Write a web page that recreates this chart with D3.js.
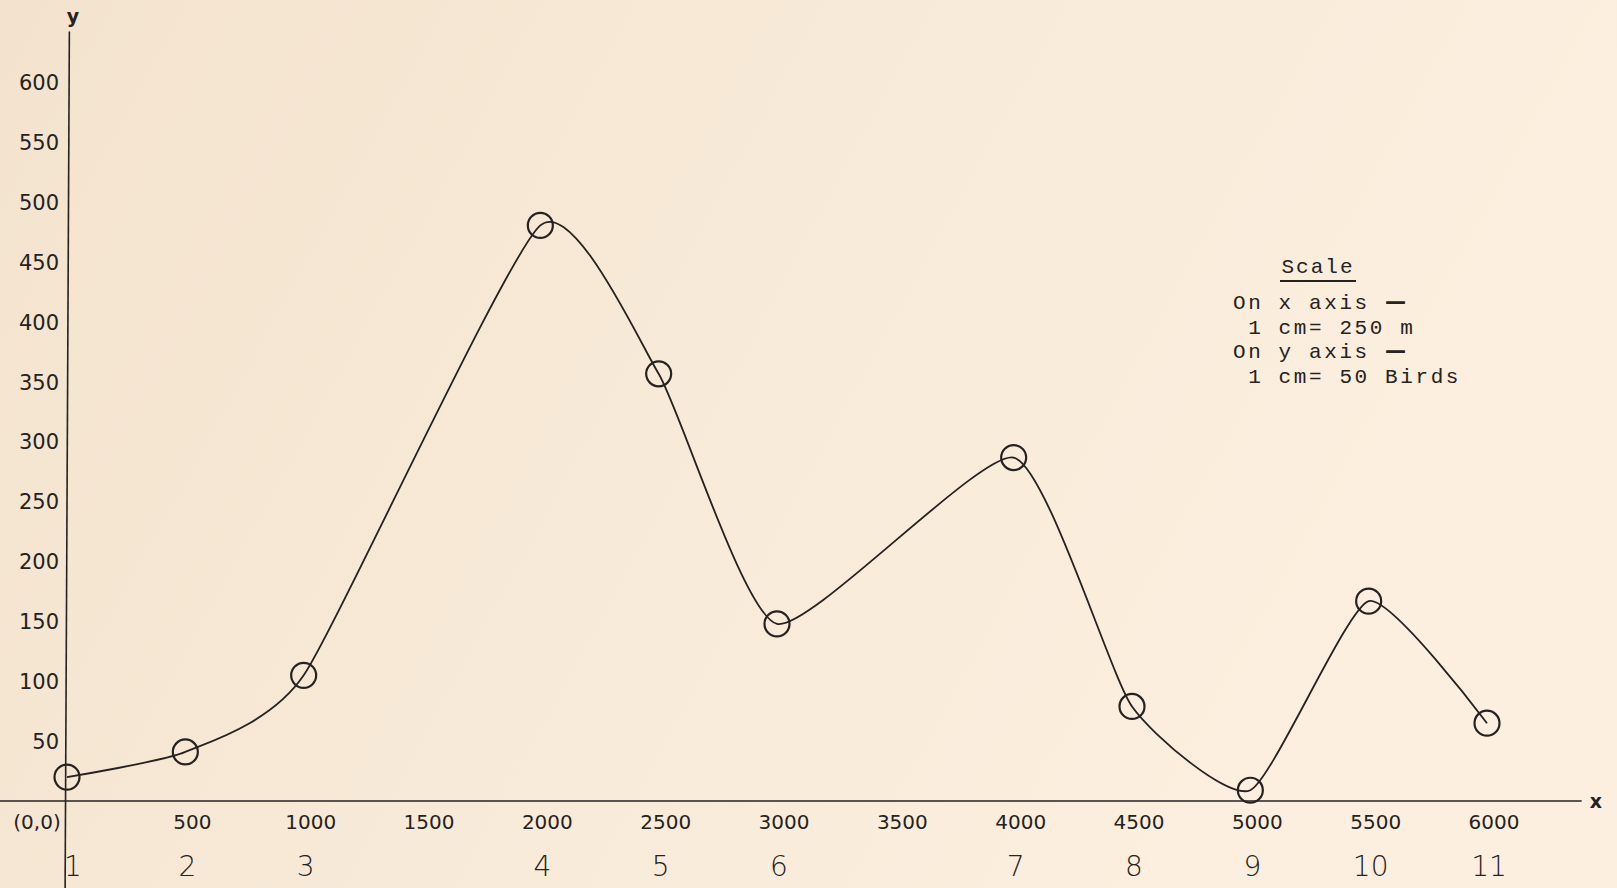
<!DOCTYPE html>
<html>
<head>
<meta charset="utf-8">
<script src="https://cdn.jsdelivr.net/npm/d3@7"></script>
<style>
  html, body { margin: 0; padding: 0; background: #f7e8d5; }
  svg { display: block; }
</style>
</head>
<body>
<svg id="chart" width="1617" height="888"></svg>
<script>
// ---- data ----
const distances = [0, 500, 1000, 2000, 2500, 3000, 4000, 4500, 5000, 5500, 6000];
const birds     = [20, 41, 105, 481, 357, 148, 287, 79, 9, 167, 65];
const pointLabels = ["1","2","3","4","5","6","7","8","9","10","11"];
const xTicks = [500, 1000, 1500, 2000, 2500, 3000, 3500, 4000, 4500, 5000, 5500, 6000];
const yTicks = [50, 100, 150, 200, 250, 300, 350, 400, 450, 500, 550, 600];
const scaleLines = [["On x axis ", "\u2014"], [" 1 cm= 250 m", ""], ["On y axis ", "\u2014"], [" 1 cm= 50 Birds", ""]];

const svg = d3.select("#chart");
const W = 1617, H = 888;

// background
const defs = svg.append("defs");
const grad = defs.append("linearGradient").attr("id", "bg").attr("x1", "0").attr("y1", "0").attr("x2", "1").attr("y2", "0.3");
grad.append("stop").attr("offset", "0").attr("stop-color", "#f3e3ce");
grad.append("stop").attr("offset", "0.5").attr("stop-color", "#f8ead8");
grad.append("stop").attr("offset", "1").attr("stop-color", "#fcefdf");
svg.append("rect").attr("width", W).attr("height", H).attr("fill", "url(#bg)");

// scales
const x = d3.scaleLinear().domain([0, 6000]).range([67, 1487]);
const y = d3.scaleLinear().domain([0, 600]).range([801, 83]);

const ink = "#252220";
const handFont = "'DejaVu Sans', sans-serif";

// axes lines
svg.append("line")
  .attr("x1", x(-495)).attr("x2", x(6400))
  .attr("y1", y(0)).attr("y2", y(0))
  .attr("stroke", ink).attr("stroke-width", 1.6);
svg.append("line")
  .attr("x1", x(10)).attr("x2", x(-8))
  .attr("y1", y(643)).attr("y2", H)
  .attr("stroke", ink).attr("stroke-width", 1.6);

svg.append("text").attr("x", x(25)).attr("y", 23)
  .attr("text-anchor", "middle").attr("font-family", handFont)
  .attr("font-weight", "bold").attr("font-size", 19).attr("fill", ink).text("y");
svg.append("text").attr("x", x(6460)).attr("y", y(0) + 7)
  .attr("text-anchor", "middle").attr("font-family", handFont)
  .attr("font-weight", "bold").attr("font-size", 19).attr("fill", ink).text("x");

// y tick labels
svg.append("g").selectAll("text").data(yTicks).join("text")
  .attr("x", x(0) - 8).attr("y", d => y(d))
  .attr("dy", "0.35em")
  .attr("text-anchor", "end")
  .attr("font-family", handFont).attr("font-size", 21)
  .attr("fill", ink).text(d => d);

// x tick labels
svg.append("g").selectAll("text").data(xTicks).join("text")
  .attr("x", d => x(d) + 7).attr("y", y(0) + 21)
  .attr("dy", "0.35em")
  .attr("text-anchor", "middle")
  .attr("font-family", handFont).attr("font-size", 20)
  .attr("fill", ink).text(d => d);
svg.append("text").attr("x", x(0) - 30).attr("y", y(0) + 21).attr("dy", "0.35em")
  .attr("text-anchor", "middle").attr("font-family", handFont).attr("font-size", 20)
  .attr("fill", ink).text("(0,0)");

// point number labels
svg.append("g").selectAll("text").data(distances).join("text")
  .attr("x", (d, i) => x(d) + (i === 0 ? 6 : 2)).attr("y", y(0) + 75)
  .attr("text-anchor", "middle")
  .attr("font-family", handFont).attr("font-size", 28).attr("font-weight", 300)
  .attr("fill", ink).text((d, i) => pointLabels[i]);

// curve
const pts = distances.map((d, i) => [d, birds[i]]);
const line = d3.line().x(d => x(d[0])).y(d => y(d[1])).curve(d3.curveCardinal.tension(0.45));
svg.append("path").datum(pts)
  .attr("d", line).attr("fill", "none")
  .attr("stroke", ink).attr("stroke-width", 1.8).attr("stroke-linejoin", "round");

// circles
svg.append("g").selectAll("circle").data(pts).join("circle")
  .attr("cx", d => x(d[0])).attr("cy", d => y(d[1])).attr("r", 12.5)
  .attr("fill", "none").attr("stroke", ink).attr("stroke-width", 2.2);

// Scale legend (typewriter)
const mono = "'Liberation Mono', 'DejaVu Sans Mono', monospace";
const sx = 1233, sy = 309;
svg.append("text").attr("x", 1318).attr("y", 273).attr("text-anchor", "middle")
  .attr("font-family", mono).attr("font-size", 21).attr("letter-spacing", 2)
  .attr("fill", ink).text("Scale");
svg.append("line").attr("x1", 1280).attr("x2", 1356).attr("y1", 281).attr("y2", 281)
  .attr("stroke", ink).attr("stroke-width", 1.8);
const st = svg.append("g").selectAll("text").data(scaleLines).join("text")
  .attr("x", sx).attr("y", (d, i) => sy + i * 24.7)
  .attr("xml:space", "preserve").style("white-space", "pre")
  .attr("font-family", mono).attr("font-size", 21).attr("letter-spacing", 2.6)
  .attr("fill", ink);
st.append("tspan").text(d => d[0]);
st.append("tspan").attr("font-weight", "bold").attr("font-family", "'DejaVu Sans', sans-serif")
  .attr("letter-spacing", 0).text(d => d[1]);
</script>
</body>
</html>
